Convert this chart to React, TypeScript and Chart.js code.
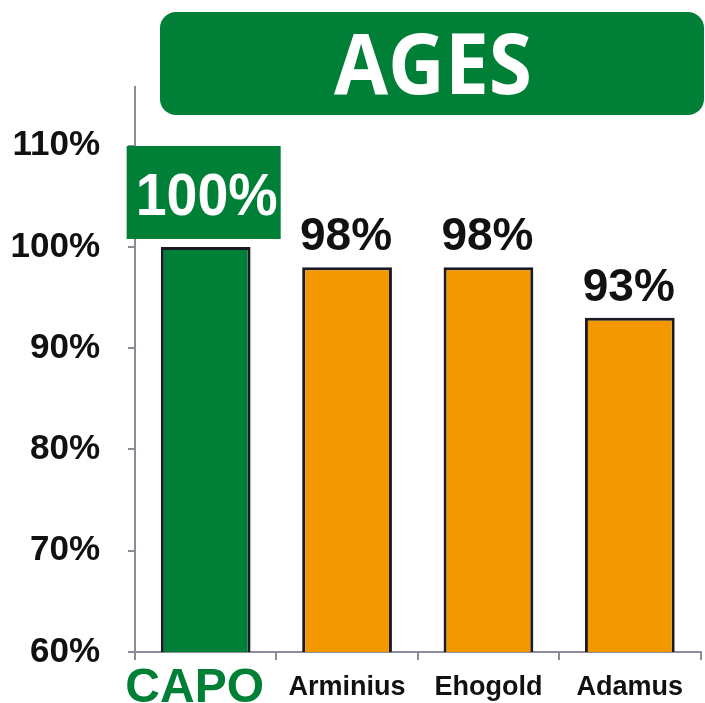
import React, { useEffect, useRef } from 'react';
import { Chart, registerables } from 'chart.js';

Chart.register(...registerables);

const categories = ['CAPO', 'Arminius', 'Ehogold', 'Adamus'];
const values = [100, 98, 98, 93];
const valueLabels = ['100%', '98%', '98%', '93%'];
const yTicks = [60, 70, 80, 90, 100, 110];
const titleText = 'AGES';

const GREEN = '#007F36';
const ORANGE = '#F39800';
const AXIS = '#8C8C98';
const INK = '#111111';
const BORDER = '#1A1A24';
const FONT = '"Liberation Sans", Arial, sans-serif';

function fitText(ctx: CanvasRenderingContext2D, text: string, cx: number, baseline: number, targetW: number) {
  const w = ctx.measureText(text).width;
  const sx = Math.min(1, targetW / w);
  ctx.save();
  ctx.translate(cx, baseline);
  ctx.scale(sx, 1);
  ctx.textAlign = 'center';
  ctx.textBaseline = 'alphabetic';
  ctx.fillText(text, 0, 0);
  ctx.restore();
}

const decorPlugin = {
  id: 'decor',
  afterDraw(chart: any) {
    const ctx: CanvasRenderingContext2D = chart.ctx;
    // title box
    ctx.save();
    ctx.fillStyle = GREEN;
    ctx.beginPath();
    (ctx as any).roundRect(160, 12, 544, 103, 16);
    ctx.fill();
    ctx.fillStyle = '#FFFFFF';
    ctx.font = 'bold 84px "Open Sans", sans-serif';
    fitText(ctx, titleText, 433, 94, 198);
    ctx.restore();

    // value labels
    const meta = chart.getDatasetMeta(0);
    meta.data.forEach((bar: any, i: number) => {
      const x = bar.x;
      const y = bar.y;
      ctx.save();
      if (i === 0) {
        const bw = 154, bh = 93;
        const bx = x - 2 - bw / 2;
        const by = y - 8 - bh;
        ctx.fillStyle = GREEN;
        ctx.fillRect(bx, by, bw, bh);
        ctx.fillStyle = '#FFFFFF';
        ctx.font = `bold 59px ${FONT}`;
        fitText(ctx, valueLabels[i], x + 1, by + 69, 142);
      } else {
        ctx.fillStyle = INK;
        ctx.font = `bold 46px ${FONT}`;
        fitText(ctx, valueLabels[i], x - 1, y - 17, 200);
      }
      ctx.restore();
    });

    // category labels
    const xs = chart.scales.x;
    const base = xs.top;
    categories.forEach((name, i) => {
      const cx = xs.getPixelForValue(i);
      ctx.save();
      if (i === 0) {
        ctx.fillStyle = GREEN;
        ctx.font = `bold 48px ${FONT}`;
        fitText(ctx, name, cx - 11, base + 50, 400);
      } else {
        ctx.fillStyle = INK;
        ctx.font = `bold 27px ${FONT}`;
        fitText(ctx, name, cx, base + 43, 400);
      }
      ctx.restore();
    });
  },
};

export default function App() {
  const ref = useRef<HTMLCanvasElement | null>(null);
  useEffect(() => {
    document.body.style.margin = '0';
    const canvas = ref.current!;
    const chart = new Chart(canvas, {
      type: 'bar',
      data: {
        labels: categories,
        datasets: [
          {
            data: values,
            backgroundColor: [GREEN, ORANGE, ORANGE, ORANGE],
            borderColor: BORDER,
            borderWidth: 3,
            borderSkipped: false,
            barPercentage: 0.635,
            categoryPercentage: 1,
          },
        ],
      },
      options: {
        animation: false,
        responsive: false,
        devicePixelRatio: 1,
        layout: { padding: { top: 87, right: 4.5, bottom: 0, left: 0 } },
        plugins: { legend: { display: false }, tooltip: { enabled: false }, title: { display: false } },
        scales: {
          x: {
            offset: true,
            afterFit: (s: any) => { s.height = 51; },
            ticks: { display: false },
            grid: { drawOnChartArea: false, drawTicks: true, tickLength: 8, color: AXIS, lineWidth: 2, offset: true },
            border: { display: true, color: AXIS, width: 2 },
          },
          y: {
            min: 60,
            max: 115.8,
            afterBuildTicks: (s: any) => { s.ticks = yTicks.map((v) => ({ value: v })); },
            afterFit: (s: any) => { s.width = 135; },
            ticks: {
              callback: (v: any) => `${v}%`,
              color: INK,
              padding: 28,
              font: { family: FONT, size: 35, weight: 'bold' },
            },
            grid: { drawOnChartArea: false, drawTicks: true, tickLength: 7, color: AXIS, lineWidth: 2 },
            border: { display: true, color: AXIS, width: 2 },
          },
        },
      },
      plugins: [decorPlugin],
    } as any);
    return () => chart.destroy();
  }, []);
  return (
    <div style={{ position: 'fixed', left: 0, top: 0, width: 705, height: 703, background: '#fff' }}>
      <canvas ref={ref} width={705} height={703} style={{ width: 705, height: 703, display: 'block' }} />
    </div>
  );
}
